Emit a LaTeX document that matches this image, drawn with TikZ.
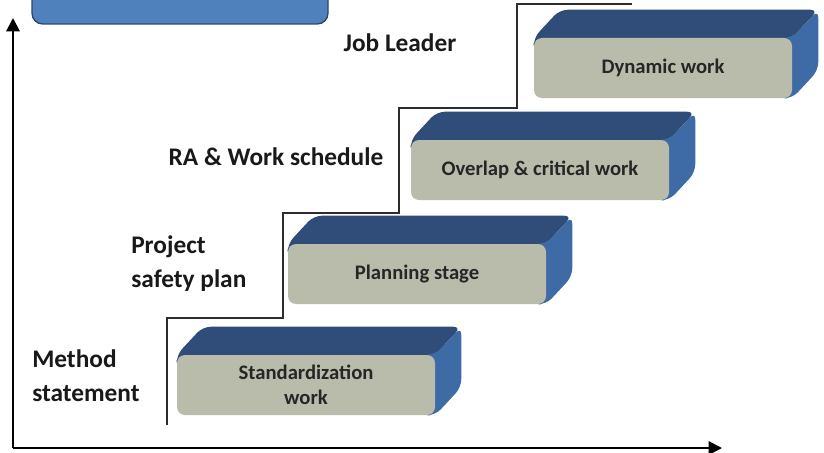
\documentclass[tikz,border=0pt]{standalone}
\usepackage{fontspec}
\newfontfamily\calfont{Carlito}
\usetikzlibrary{arrows.meta,backgrounds}

\definecolor{frontgray}{RGB}{186,188,171}
\definecolor{topblue}{RGB}{47,77,120}
\definecolor{sideblue}{RGB}{62,106,165}
\definecolor{headblue}{RGB}{79,129,189}
\definecolor{headedge}{RGB}{45,70,105}
\definecolor{stairgray}{RGB}{45,45,45}

\begin{document}
\begin{tikzpicture}[x=0.75pt,y=-0.75pt,
    block/.style={fill=frontgray, rounded corners=6pt, minimum width=193.5pt,
        minimum height=45pt, inner sep=0pt, align=center,
        font=\calfont\bfseries\fontsize{15.5}{19}\selectfont, text=black!85},
    topface/.style={fill=topblue, rounded corners=6pt},
    sideface/.style={fill=sideblue, rounded corners=6pt},
    steplabel/.style={inner sep=0pt, align=left,
        font=\calfont\bfseries\fontsize{19}{25.5}\selectfont, text=black!90},
    axis/.style={line width=1.5pt, -{Triangle[length=10pt,width=10pt]}},
    stair/.style={line width=1.1pt, draw=stairgray}]
    \useasboundingbox (0,0) rectangle (824,453);

    % header box, cut by the top edge
    \draw[fill=headblue, draw=headedge, line width=1pt, rounded corners=8pt] (32,-30) rectangle (328,24);

    % axes
    \coordinate (origin) at (13,448);
    \coordinate (ytip) at (13,18);
    \coordinate (xtip) at (722,448);
    \draw[axis] (origin) -- (ytip);
    \draw[axis] (origin) -- (xtip);

    % stair line
    \draw[stair] (167,425) -- (167,318) -- (283,318) -- (283,213) -- (399,213)
        -- (399,108) -- (517,108) -- (517,4) -- (632,4);

    % blocks
    \foreach \x/\y/\txt/\n in {306/385/{Standardization\\work}/std,
                               417/274/{Planning stage}/plan,
                               540/170/{Overlap \& critical work}/over,
                               663/68/{Dynamic work}/dyn}{
        \node[block] (\n) at (\x,\y) {\txt};
        \begin{scope}[on background layer]
            \fill[topface] ([yshift=-10pt]\n.north west) -- (\n.north west) -- ++(26,-28)
                -- ([shift={(26,-28)}]\n.north east) -- (\n.north east)
                -- ([yshift=-10pt]\n.north east) -- cycle;
            \fill[sideface] ([xshift=-10pt]\n.north east) -- (\n.north east) -- ++(26,-28)
                -- ([shift={(26,-28)}]\n.south east) -- (\n.south east)
                -- ([xshift=-10pt]\n.south east) -- cycle;
        \end{scope}
    }

    % labels
    \node[steplabel] (job) at (400,43) {Job Leader};
    \node[steplabel] (ra) at (276,157) {RA \& Work schedule};
    \node[steplabel, anchor=west] (psp) at (131,264) {Project\\safety plan};
    \node[steplabel, anchor=west] (ms) at (32,376) {Method\\statement};
\end{tikzpicture}
\end{document}
